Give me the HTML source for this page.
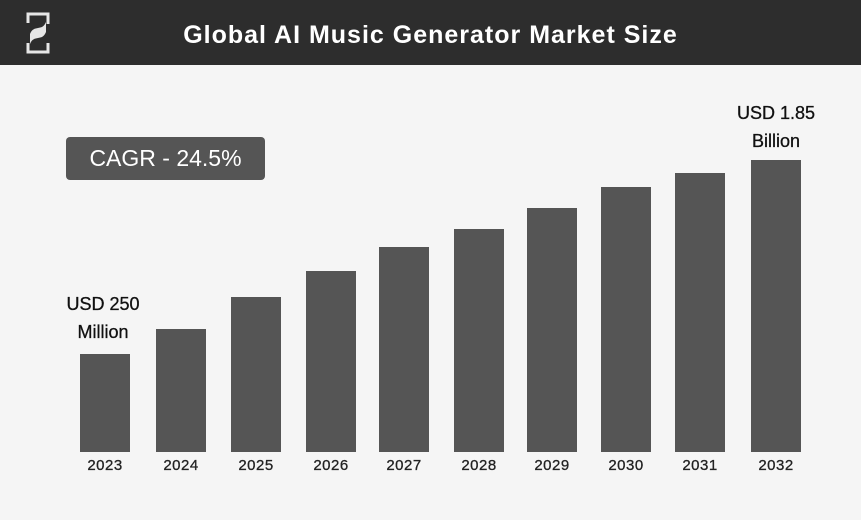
<!DOCTYPE html>
<html><head><style>
body{margin:0;width:861px;height:520px;background:#f5f5f5;font-family:"Liberation Sans",sans-serif;position:relative;overflow:hidden}
.h{position:absolute;left:0;top:0;width:861px;height:65px;background:#2d2d2d}
.t{position:absolute;left:0;right:0;top:21px;text-align:center;color:#fff;font-size:25px;font-weight:bold;letter-spacing:1px}
.b{position:absolute;background:#555;width:50px;bottom:68px}
.y{position:absolute;top:457px;width:80px;text-align:center;font-size:15px;color:#222;letter-spacing:0.5px;-webkit-text-stroke:0.3px #222}
.l{position:absolute;text-align:center;font-size:18px;color:#111;line-height:28px;width:120px;-webkit-text-stroke:0.3px #111}
.c{position:absolute;left:66px;top:137px;width:199px;height:43px;background:#555;border-radius:4px;color:#fff;font-size:23px;text-align:center;line-height:43px}
</style></head><body>
<div class="h"></div>
<svg style="position:absolute;left:26px;top:12px" width="24" height="42" viewBox="0 0 24 42">
<path d="M2 11V2h20v10M2 31v9h20v-9" fill="none" stroke="#e6e6e6" stroke-width="3"/>
<path d="M4 22c4-10 12-2 16-12v10c-4 10-12 2-16 12z" fill="#e6e6e6"/>
</svg>
<div class="t">Global AI Music Generator Market Size</div>
<div class="c">CAGR - 24.5%</div>
<div class="b" style="left:80px;top:354px"></div>
<div class="b" style="left:156px;top:329px"></div>
<div class="b" style="left:231px;top:297px"></div>
<div class="b" style="left:306px;top:271px"></div>
<div class="b" style="left:379px;top:247px"></div>
<div class="b" style="left:454px;top:229px"></div>
<div class="b" style="left:527px;top:208px"></div>
<div class="b" style="left:601px;top:187px"></div>
<div class="b" style="left:675px;top:173px"></div>
<div class="b" style="left:751px;top:160px"></div>
<div class="y" style="left:65px">2023</div>
<div class="y" style="left:141px">2024</div>
<div class="y" style="left:216px">2025</div>
<div class="y" style="left:291px">2026</div>
<div class="y" style="left:364px">2027</div>
<div class="y" style="left:439px">2028</div>
<div class="y" style="left:512px">2029</div>
<div class="y" style="left:586px">2030</div>
<div class="y" style="left:660px">2031</div>
<div class="y" style="left:736px">2032</div>
<div class="l" style="left:43px;top:290px">USD 250<br>Million</div>
<div class="l" style="left:716px;top:99px">USD 1.85<br>Billion</div>
</body></html>
